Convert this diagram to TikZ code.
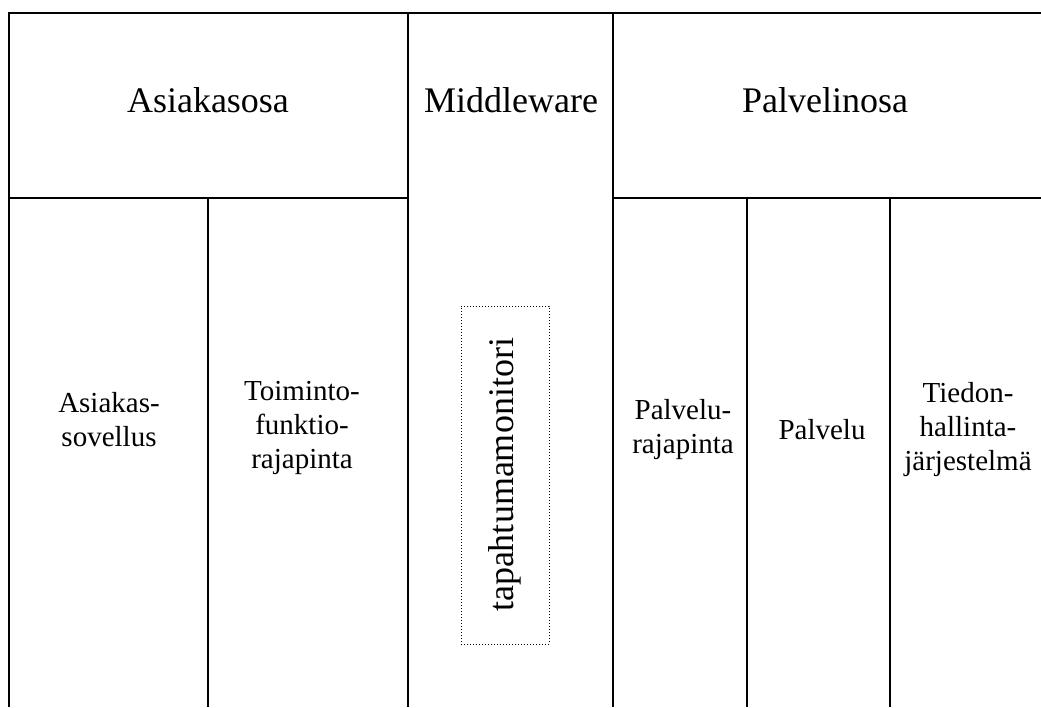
\documentclass[tikz,border=0pt]{standalone}
\usepackage{fontspec}
\setmainfont{Liberation Serif}
\tikzset{
  osa/.style={font=\fontsize{36}{42}\selectfont},
  osio/.style={font=\fontsize{29}{34}\selectfont, align=center},
  monitori/.style={draw, dotted, line width=1pt, minimum width=88pt, minimum height=338pt, inner sep=0pt},
}
\begin{document}
\begin{tikzpicture}[x=1pt, y=-1pt, line width=1.3pt]
      \useasboundingbox (0,0) rectangle (1041,707);
      % reunat ja jaot
      \draw (1041,13) -- (9,13) -- (9,707);
      \draw (9,198) -- (408,198);
      \draw (613,198) -- (1041,198);
      \draw (408,13) -- (408,707);
      \draw (613,13) -- (613,707);
      \draw (208,198) -- (208,707);
      \draw (747,198) -- (747,707);
      \draw (890,198) -- (890,707);
      % otsikot
      \node[osa] (asiakasosa) at (208,100) {Asiakasosa};
      \node[osa] (middleware) at (511,100) {Middleware};
      \node[osa] (palvelinosa) at (825,100) {Palvelinosa};
      % osiot
      \node[osio] (sovellus) at (109,420) {Asiakas-\\sovellus};
      \node[osio] (toiminto) at (302,428) {Toiminto-\\funktio-\\rajapinta};
      \node[osio] (rajapinta) at (683,430) {Palvelu-\\rajapinta};
      \node[osio] (palvelu) at (822,430) {Palvelu};
      \node[osio] (tiedon) at (968,430) {Tiedon-\\hallinta-\\järjestelmä};
      \node[monitori] (kehys) at (505,475) {};
      \node[osa, rotate=90] (tapahtuma) at (kehys.center) {tapahtumamonitori};
    \end{tikzpicture}
\end{document}
